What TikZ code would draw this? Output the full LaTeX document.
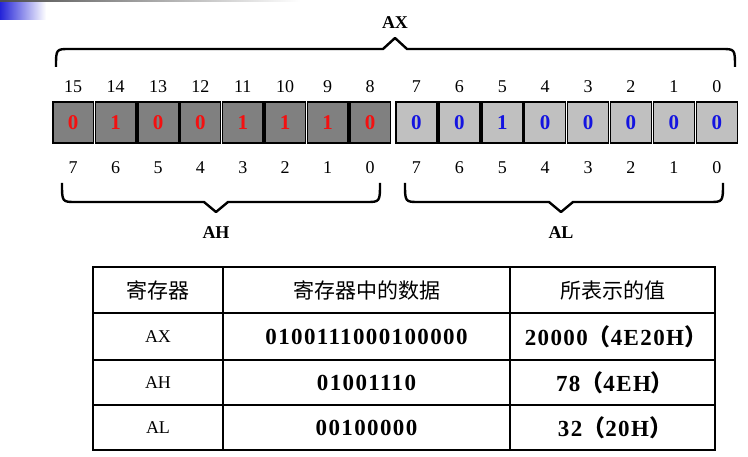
\documentclass[tikz,border=0pt]{standalone}
\usepackage{fontspec}
\setmainfont{Liberation Serif}
\newfontfamily\regcjk{Noto Sans CJK SC}
\newfontfamily\regwert[LetterSpace=6.0]{Liberation Serif}
\usetikzlibrary{positioning}
\definecolor{regdunkel}{HTML}{808080}
\definecolor{reghell}{HTML}{C0C0C0}
\definecolor{regrot}{HTML}{F41010}
\definecolor{regblau}{HTML}{1414E0}
\definecolor{regblock}{HTML}{2424D8}
\newcommand{\idxf}{\fontsize{18}{21}\selectfont}
\newcommand{\bitf}{\fontsize{21}{25}\selectfont\bfseries}
\newcommand{\labf}{\fontsize{18}{22}\selectfont\bfseries}
\newcommand{\tabf}{\fontsize{23}{27}\selectfont}
% brace: left x, right x, tip x, end y, line y, tip y
\newcommand{\regbrace}[6]{%
  \draw[regbrc] (#1,#4) .. controls (#1,#5) .. ({#1+14},#5) -- ({#3-12},#5)
    -- (#3,#6) -- ({#3+12},#5) -- ({#2-14},#5) .. controls (#2,#5) .. (#2,#4);
}
\tikzset{
  regbrc/.style={line width=2.4,line join=round},
  bitbox/.style={draw=black,line width=1.5,minimum width=40.5,minimum height=41,inner sep=0,font=\bitf},
  hbit/.style={bitbox,fill=regdunkel,text=regrot},
  lbit/.style={bitbox,fill=reghell,text=regblau,minimum width=41},
  idx/.style={inner sep=0,font=\idxf},
  cell/.style={inner sep=0},
  kopf/.style={cell,font=\fontsize{21}{24}\selectfont\regcjk},
  regname/.style={cell,font=\fontsize{18}{22}\selectfont},
  wert/.style={cell,font=\tabf\regwert\bfseries}
}

\begin{document}
\begin{tikzpicture}[x=1pt,y=-1pt]
\useasboundingbox (0,0) rectangle (748,457);
\shade[left color=regblock,right color=white] (0,2) rectangle (46,20);
\shade[left color=black!70,right color=white] (0,0) rectangle (300,2);
% AH / AL bits
\foreach \b [count=\k from 0] in {0,1,0,0,1,1,1,0}
  \node[hbit] (h\k) at ({52+42.4*(\k+0.5)},122.5) {\b};
\foreach \b [count=\k from 0] in {0,0,1,0,0,0,0,0}
  \node[lbit] (l\k) at ({395+42.9*(\k+0.5)},122.5) {\b};
% bit numbers
\foreach \k in {0,...,7}{
  \pgfmathtruncatemacro{\hi}{15-\k}
  \pgfmathtruncatemacro{\lo}{7-\k}
  \node[idx] (ht\k) at ([yshift=15]h\k.north) {\hi};
  \node[idx] (lt\k) at ([yshift=15]l\k.north) {\lo};
  \node[idx] (hb\k) at ([yshift=-24]h\k.south) {\lo};
  \node[idx] (lb\k) at ([yshift=-24]l\k.south) {\lo};
}
\regbrace{56}{735}{395}{67}{49}{38}
\node[font=\labf] (ax) at (395,23) {AX};
\regbrace{62}{380}{216}{183}{202}{212}
\node[font=\labf] (ah) at (216,233) {AH};
\regbrace{405}{723}{561}{183}{202}{212}
\node[font=\labf] (al) at (561,233) {AL};
% table
\draw[line width=2.6] (93,267) rectangle (715,450);
\draw[line width=2.2] (223,267) -- (223,450) (510,267) -- (510,450)
  (93,313) -- (715,313) (93,360) -- (715,360) (93,405) -- (715,405);
\node[kopf] (t0a) at (158,290) {寄存器};
\node[kopf] (t0b) at (366.5,290) {寄存器中的数据};
\node[kopf] (t0c) at (612.5,290) {所表示的值};
\node[regname] (t1a) at (158,336.5) {AX};
\node[wert] (t1b) at (366.5,336.5) {0100111000100000};
\node[wert] (t1c) at (616,336.5) {20000{\regcjk （}4E20H{\regcjk ）}};
\node[regname] (t2a) at (158,382.5) {AH};
\node[wert] (t2b) at (366.5,382.5) {01001110};
\node[wert] (t2c) at (615,382.5) {78{\regcjk （}4EH{\regcjk ）}};
\node[regname] (t3a) at (158,427.5) {AL};
\node[wert] (t3b) at (366.5,427.5) {00100000};
\node[wert] (t3c) at (615,427.5) {32{\regcjk （}20H{\regcjk ）}};
\end{tikzpicture}
\end{document}
